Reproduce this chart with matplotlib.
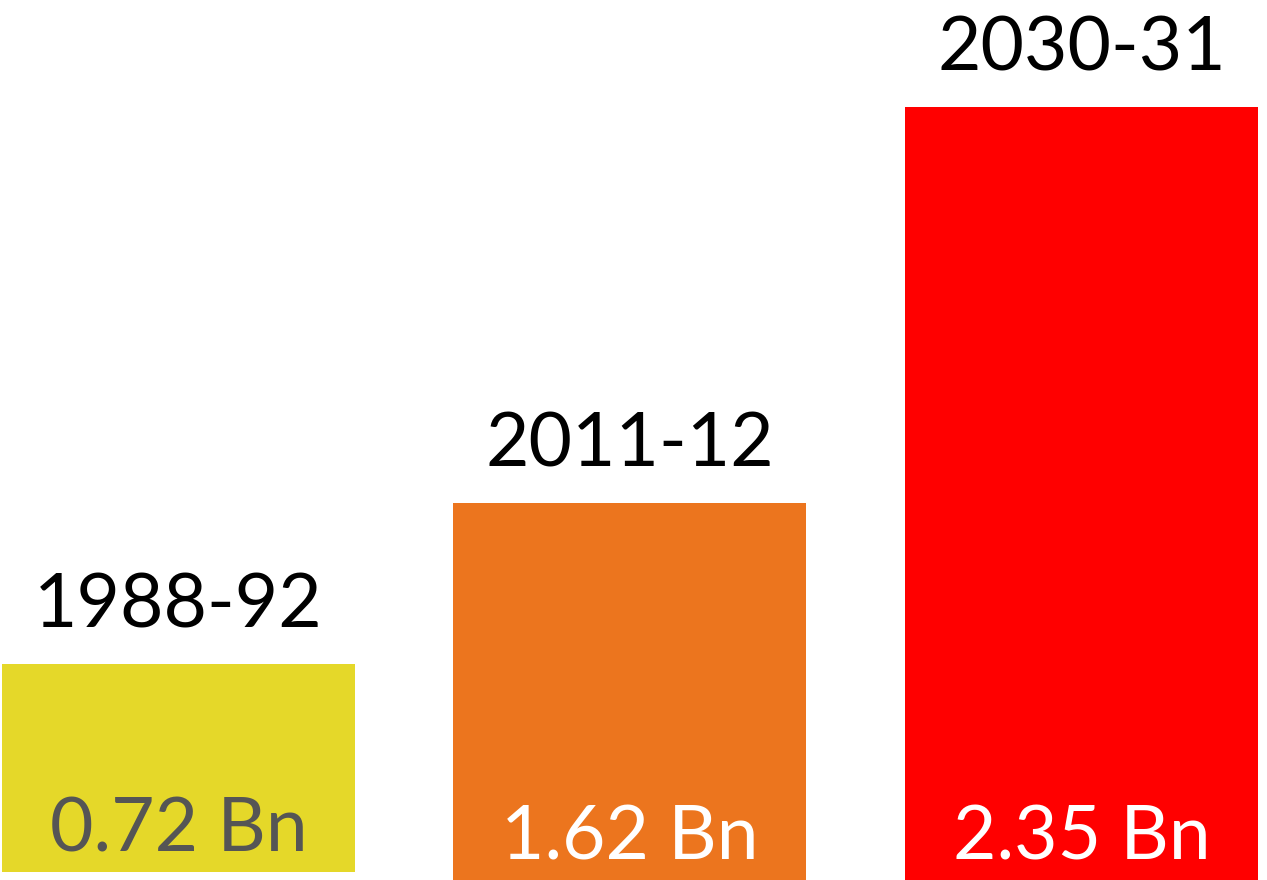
import matplotlib
matplotlib.use("Agg")
import matplotlib.pyplot as plt

# data
periods = ["1988-92", "2011-12", "2030-31"]
value_labels = ["0.72 Bn", "1.62 Bn", "2.35 Bn"]
bar_tops = [216, 377, 773]      # bar heights as drawn (not to scale with values)
bar_bottoms = [8, 0, 0]
bar_colors = ["#E5D829", "#EC751E", "#FF0000"]
value_colors = ["#555555", "#FFFFFF", "#FFFFFF"]

plt.rcParams["font.family"] = ["Lato", "DejaVu Sans"]

fig = plt.figure(figsize=(12.67, 8.8), dpi=100)
ax = fig.add_axes([0, 0, 1, 1])

x = list(range(len(periods)))
heights = [t - b for t, b in zip(bar_tops, bar_bottoms)]
ax.bar(x, heights, bottom=bar_bottoms, width=0.782, color=bar_colors)

for i in x:
    # period label above the bar
    ax.annotate(periods[i], (i, bar_tops[i]), xytext=(0, 26), textcoords="offset points",
                ha="center", va="baseline", fontsize=54, color="black")
    # value label inside the bar, near its foot
    ax.annotate(value_labels[i], (i, bar_bottoms[i]), xytext=(0, 15), textcoords="offset points",
                ha="center", va="baseline", fontsize=54, color=value_colors[i])

ax.set_xlim(-0.395, 2.411)
ax.set_ylim(0, 880)
ax.axis("off")

fig.savefig("out.png", dpi=100, facecolor="white")
